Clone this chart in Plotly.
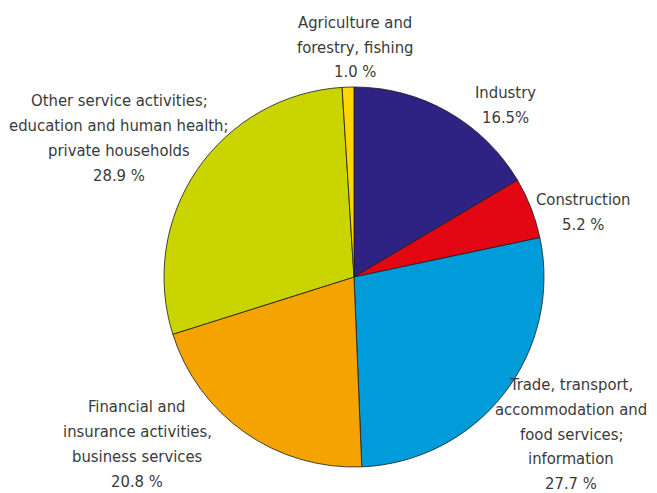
import plotly.graph_objects as go

sectors = ["Industry", "Construction",
           "Trade, transport,<br>accommodation and<br>food services;<br>information",
           "Financial and<br>insurance activities,<br>business services",
           "Other service activities;<br>education and human health;<br>private households",
           "Agriculture and<br>forestry, fishing"]
shares = [16.5, 5.2, 27.7, 20.8, 28.9, 1.0]
share_labels = ["16.5%", "5.2 %", "27.7 %", "20.8 %", "28.9 %", "1.0 %"]
colors = ["#2e2383", "#e30613", "#009bd9", "#f5a300", "#c9d400", "#ffd600"]

W, H = 657, 493
OFF = 8  # page body margin
cx, cy, r = 354 - OFF, 277 - OFF, 190

fig = go.Figure(go.Pie(
    labels=[s.replace("<br>", " ") for s in sectors], values=shares, sort=False,
    direction="clockwise", rotation=0,
    marker=dict(colors=colors, line=dict(color="#1a1a1a", width=0.8)),
    textinfo="none", hoverinfo="label+value", showlegend=False,
    domain=dict(x=[(cx - r) / W, (cx + r) / W], y=[(H - cy - r) / H, (H - cy + r) / H]),
))

FONT = dict(size=16.5, color="#3a3a3a",
            family="DejaVu Sans Condensed, Liberation Sans Narrow, sans-serif")
LINE = 24.7
# label centres (pixels in reference)
label_pos = [(505, 105), (583, 212), (571, 434), (137, 444), (119, 138), (355, 47)]
for name, lab, (px, py) in zip(sectors, share_labels, label_pos):
    lines = name.split("<br>") + [lab]
    n = len(lines)
    for i, t in enumerate(lines):
        yy = py - OFF + (i - (n - 1) / 2) * LINE
        fig.add_annotation(x=(px - OFF) / W, y=1 - yy / H, xref="paper", yref="paper",
                           text=t, showarrow=False, xanchor="center", yanchor="middle",
                           font=FONT)

fig.update_layout(width=W, height=H, margin=dict(l=0, r=0, t=0, b=0),
                  paper_bgcolor="white", plot_bgcolor="white")
fig.write_html("out.html")
